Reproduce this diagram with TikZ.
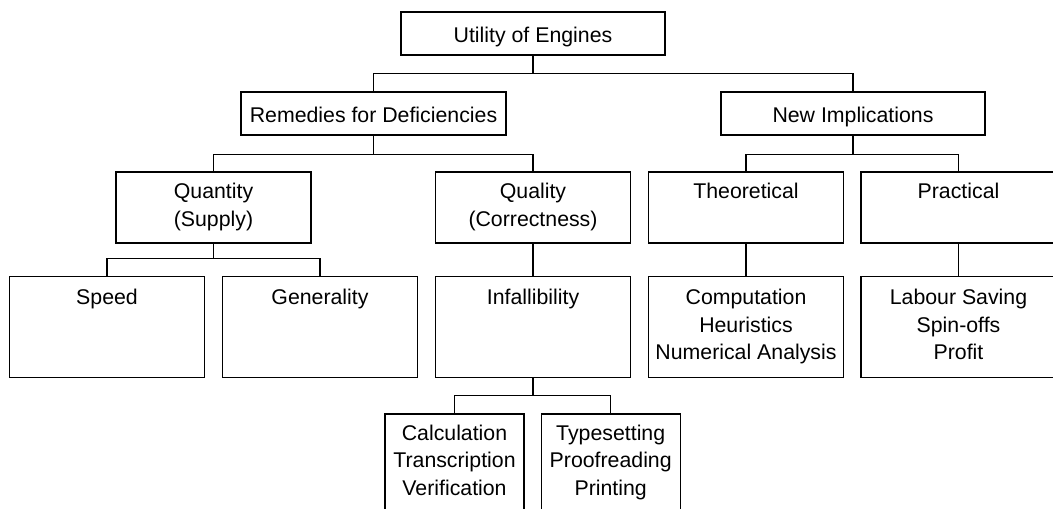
\documentclass[tikz,border=0pt]{standalone}
\usepackage{fontspec}
\setmainfont{Liberation Sans}
\usetikzlibrary{positioning, calc}
\newcommand{\boxstrut}{\rule[-5.25pt]{0pt}{27.5pt}}

\begin{document}
\begin{tikzpicture}[x=1pt, y=-1pt, line width=1.1pt,
        font=\fontsize{21.3}{27.5}\selectfont,
        box/.style={draw, align=center, inner sep=0pt,
            execute at begin node=\boxstrut, execute at end node=\boxstrut},
        headbox/.style={box, minimum width=264pt, minimum height=43pt},
        midbox/.style={box, minimum width=195pt, minimum height=71pt},
        leafbox/.style={box, minimum width=195pt, minimum height=100.5pt},
        smallbox/.style={box, minimum width=139pt, minimum height=97pt}]
        % Frame
        \useasboundingbox (0,0) rectangle (1053,509);

        % Nodes
        \node[headbox] (utility) at (533,33.5) {Utility of Engines};
        \node[headbox, minimum width=265pt] (remedies) at (373.5,113.5) {Remedies for Deficiencies};
        \node[headbox] (newimp) at (853,113.5) {New Implications};

        \node[midbox] (quantity) at (213.5,207.5) {Quantity\\(Supply)};
        \node[midbox] (quality) at (533,207.5) {Quality\\(Correctness)};
        \node[midbox] (theory) at (746,207.5) {Theoretical\\~};
        \node[midbox] (practice) at (958.5,207.5) {Practical\\~};

        \node[leafbox] (speed) at (107,327) {Speed\\~\\~};
        \node[leafbox] (generality) at (320,327) {Generality\\~\\~};
        \node[leafbox] (infall) at (533,327) {Infallibility\\~\\~};
        \node[leafbox] (comput) at (746,327) {Computation\\Heuristics\\Numerical Analysis};
        \node[leafbox] (labour) at (958.5,327) {Labour Saving\\Spin-offs\\Profit};

        \node[smallbox] (calc) at (454.5,462.5) {Calculation\\Transcription\\Verification};
        \node[smallbox] (typeset) at (610.7,462.5) {Typesetting\\Proofreading\\Printing};

        % Connectors
        \draw (utility.south) -- ++(0,17.7) coordinate (j1) -| (remedies.north);
        \draw (j1) -| (newimp.north);
        \draw (remedies.south) -- ++(0,18.5) coordinate (j2) -| (quantity.north);
        \draw (j2) -| (quality.north);
        \draw (newimp.south) -- ++(0,18.5) coordinate (j3) -| (theory.north);
        \draw (j3) -| (practice.north);
        \draw (quantity.south) -- ++(0,15.3) coordinate (j4) -| (speed.north);
        \draw (j4) -| (generality.north);
        \draw (quality.south) -- (infall.north);
        \draw (theory.south) -- (comput.north);
        \draw (practice.south) -- (labour.north);
        \draw (infall.south) -- ++(0,18) coordinate (j5) -| (calc.north);
        \draw (j5) -| (typeset.north);
\end{tikzpicture}
\end{document}
